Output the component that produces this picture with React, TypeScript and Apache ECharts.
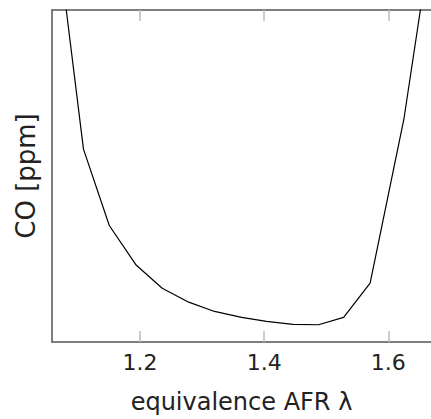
import React, { useEffect, useRef } from "react";
import * as echarts from "echarts";

const lambdaValues = [1.066, 1.1088, 1.1504, 1.194, 1.2357, 1.2784, 1.32, 1.3637, 1.4037, 1.4464, 1.4875, 1.528, 1.5707, 1.6251, 1.668];
const coValues = [1228, 581, 351, 231, 162, 120, 92, 74, 62, 53, 52, 74, 177, 671, 1202];
const xTicks = [1.2, 1.4, 1.6];

const FONT = "'DejaVu Sans', sans-serif";

export default function App() {
  const ref = useRef<HTMLDivElement>(null);
  useEffect(() => {
    if (!ref.current) return;
    const chart = echarts.init(ref.current, undefined, { renderer: "svg" });
    const data = lambdaValues.map((x, i) => [x, coValues[i]]);
    const xMin = 1.0581;
    const xMax = 1.6688;
    const commonX = {
      type: "value" as const,
      min: xMin,
      max: xMax,
      splitLine: { show: false },
      axisLine: { show: true, lineStyle: { color: "#555", width: 1.5 } },
      axisTick: { show: true, inside: true, length: 11, lineStyle: { color: "#bbb", width: 1.5 }, customValues: xTicks },
    };
    chart.setOption({
      animation: false,
      backgroundColor: "#fff",
      grid: { left: 52, top: 10, bottom: 75, right: -3, containLabel: false },
      xAxis: [
        {
          ...commonX,
          position: "bottom",
          name: "equivalence AFR λ",
          nameLocation: "middle",
          nameGap: 48,
          nameTextStyle: { fontFamily: FONT, fontSize: 24, color: "#222" },
          axisLabel: {
            show: true,
            customValues: xTicks,
            formatter: (v: number) => v.toFixed(1),
            fontFamily: FONT,
            fontSize: 22,
            color: "#222",
            margin: 9,
          },
        },
        {
          ...commonX,
          position: "top",
          axisLabel: { show: false },
        },
      ],
      yAxis: {
        type: "value",
        min: 0,
        max: 1000,
        axisLine: { show: true, lineStyle: { color: "#555", width: 1.5 } },
        axisTick: { show: false },
        axisLabel: { show: false },
        splitLine: { show: false },
        name: "CO [ppm]",
        nameLocation: "middle",
        nameGap: 13,
        nameTextStyle: { fontFamily: FONT, fontSize: 26, color: "#222" },
      },
      series: [
        {
          type: "line",
          data,
          xAxisIndex: 0,
          showSymbol: false,
          clip: true,
          lineStyle: { color: "#000", width: 1.2 },
        },
      ],
    });
    return () => chart.dispose();
  }, []);
  return (
    <div
      ref={ref}
      style={{ position: "fixed", left: 0, top: 0, width: 431, height: 419 }}
    />
  );
}
